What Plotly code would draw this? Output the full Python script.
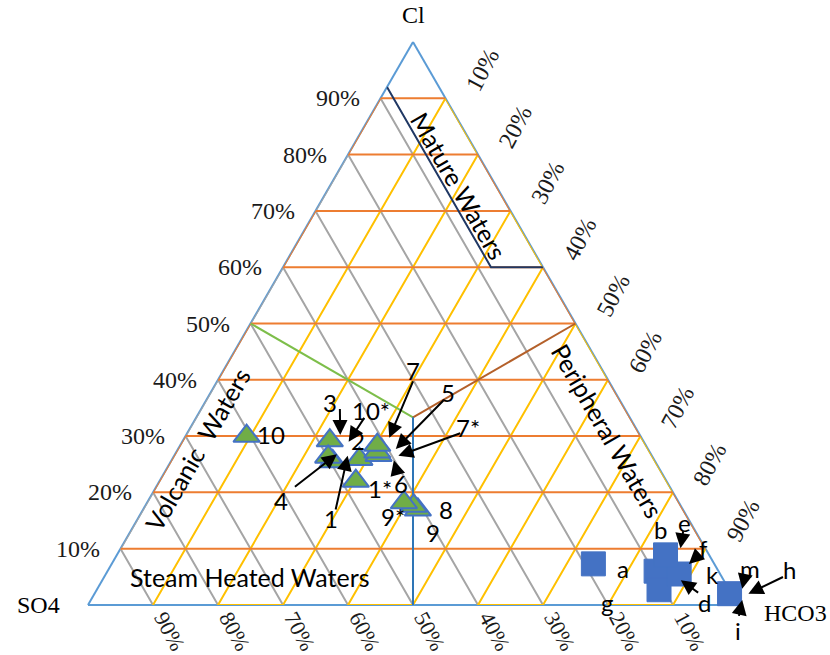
import math
import plotly.graph_objects as go

# Sample compositions (percent of Cl + SO4 + HCO3)
hot_cl = [16.9, 17.6, 18.2, 30.0, 29.2, 25.5, 26.3, 25.9, 22.0, 26.6, 27.2, 28.4]
hot_so4 = [40.8, 41.1, 42.3, 60.6, 48.2, 49.6, 49.9, 45.3, 47.8, 42.0, 41.9, 41.3]
hot_hco3 = [42.3, 41.3, 39.5, 9.4, 22.6, 24.9, 23.8, 28.8, 30.2, 31.4, 30.9, 30.3]

cold_cl = [7.3, 6.0, 2.7, 5.5, 8.9, 2.0]
cold_so4 = [18.6, 9.6, 10.8, 6.3, 6.7, 0.3]
cold_hco3 = [74.1, 84.4, 86.5, 88.2, 84.4, 97.7]

# Water-type field boundaries
mature_cl = [92, 60, 60]
mature_so4 = [8, 8, 0]
mature_hco3 = [0, 32, 40]
third = 100 / 3
volcanic_cl = [50, third]
volcanic_so4 = [50, third]
volcanic_hco3 = [0, third]
peripheral_cl = [third, 50]
peripheral_so4 = [third, 0]
peripheral_hco3 = [third, 50]
steam_cl = [third, 0]
steam_so4 = [third, 50]
steam_hco3 = [third, 50]

tick_vals = [10, 20, 30, 40, 50, 60, 70, 80, 90]
tick_text = [f"{v}%" for v in tick_vals]

# Callouts: text, label (Cl %, HCO3 %), arrow tail, arrow head
callouts = [
    ("3", (35.9, 19.3), (35.1, 21.2), (30.2, 23.7)),
    ("10*", (34.6, 26.2), (33.5, 25.9), (29.0, 25.6)),
    ("2", (29.2, 27.0), None, None),
    ("4", (18.5, 20.4), (20.8, 21.2), (26.8, 24.9)),
    ("1", (15.4, 29.7), (16.7, 29.7), (26.5, 26.7)),
    ("1*", (20.7, 34.5), None, None),
    ("6", (21.6, 37.4), (23.4, 35.9), (25.7, 34.2)),
    ("7", (41.7, 29.1), (40.0, 30.1), (29.7, 31.5)),
    ("5", (37.7, 36.5), (36.6, 36.6), (27.7, 33.5)),
    ("7*", (31.5, 42.7), (30.6, 42.2), (26.5, 34.5)),
    ("9*", (15.8, 39.0), None, None),
    ("8", (17.0, 46.5), None, None),
    ("9", (12.9, 46.6), None, None),
    ("10", (30.3, 13.0), None, None),
    ("a", (6.5, 79.1), None, None),
    ("b", (13.4, 81.3), None, None),
    ("e", (14.7, 84.4), (13.4, 84.9), (10.1, 86.1)),
    ("f", (10.1, 89.6), (9.1, 89.6), (7.3, 88.8)),
    ("k", (5.4, 93.3), None, None),
    ("d", (0.5, 94.6), (2.0, 93.1), (4.4, 89.0)),
    ("g", (0.5, 79.6), None, None),
    ("m", (6.5, 98.6), (5.4, 98.4), (2.9, 99.2)),
    ("h", (6.3, 104.8), (5.1, 104.6), (2.0, 100.6)),
    ("i", (-4.5, 102.2), (-2.2, 101.2), (0.9, 100.2)),
]

# Field names: text, centre (Cl %, HCO3 %), rotation
fields = [
    ("Mature Waters", (74.5, 19.9), 60),
    ("Peripheral Waters", (31.0, 64.5), 60),
    ("Volcanic  Waters", (27.7, 3.0), -60),
    ("Steam Heated Waters", (4.9, 22.5), 0),
]

S3 = math.sqrt(3) / 2
SANS = "Lato, Carlito, sans-serif"
SERIF = "Liberation Serif, Times New Roman, serif"
LABEL_FONT = dict(family=SANS, size=24, color="black")
TICK_FONT = dict(family=SERIF, size=24, color="#1a1a1a")
BOTTOM_TICK_FONT = dict(family=SERIF, size=22, color="#1a1a1a")
VERTEX_FONT = dict(family=SERIF, size=24, color="black")

# page and triangle placement (pixels)
FIG_W, FIG_H = 830, 655
PAD_L, PAD_R, PAD_T, PAD_B = 88, 92, 42, 50
SIDE = FIG_W - PAD_L - PAD_R  # triangle side length


def xy(cl, hco3):
    """Position in the unit-triangle frame of the overlay axes."""
    a = cl / 100.0
    c = hco3 / 100.0
    return c + a / 2.0, a * S3


def zigzag(ends_a, ends_b):
    """Grid drawn as one continuous path: each grid line is walked end to
    end, and consecutive lines are joined along the triangle's edges."""
    pts = []
    for i, v in enumerate(tick_vals):
        p, q = ends_a(v), ends_b(v)
        pts.extend([p, q] if i % 2 == 0 else [q, p])
    return [p[0] for p in pts], [p[1] for p in pts], [p[2] for p in pts]


fig = go.Figure()

# invisible anchor for the overlay cartesian frame
fig.add_trace(go.Scatter(x=[0, 1], y=[0, S3], mode="markers",
                         marker=dict(opacity=0), hoverinfo="skip",
                         showlegend=False))


def path(a, b, c, color):
    fig.add_trace(go.Scatterternary(a=a, b=b, c=c, mode="lines",
                                    line=dict(color=color, width=2),
                                    cliponaxis=False, hoverinfo="skip",
                                    showlegend=False))


# grid: constant SO4 (grey), constant HCO3 (gold), constant Cl (orange)
path(*zigzag(lambda s: (100 - s, s, 0), lambda s: (0, s, 100 - s)), "#A5A5A5")
path(*zigzag(lambda h: (0, 100 - h, h), lambda h: (100 - h, 0, h)), "#FFC000")
path(*zigzag(lambda a: (a, 100 - a, 0), lambda a: (a, 0, 100 - a)), "#ED7D31")

# field boundaries
path(mature_cl, mature_so4, mature_hco3, "#203864")
path(volcanic_cl, volcanic_so4, volcanic_hco3, "#7DBE4A")
path(peripheral_cl, peripheral_so4, peripheral_hco3, "#B4602A")
path(steam_cl, steam_so4, steam_hco3, "#2E75B6")

fig.add_trace(go.Scatterternary(
    a=hot_cl, b=hot_so4, c=hot_hco3, mode="markers", cliponaxis=False,
    marker=dict(symbol="triangle-up", size=23, color="#70AD47",
                line=dict(color="#4472C4", width=2)),
    showlegend=False))

fig.add_trace(go.Scatterternary(
    a=cold_cl, b=cold_so4, c=cold_hco3, mode="markers", cliponaxis=False,
    marker=dict(symbol="square", size=24, color="#4472C4",
                line=dict(color="#4472C4", width=1)),
    showlegend=False))

annotations = []
for text, lab, tail, head in callouts:
    lx, ly = xy(*lab)
    annotations.append(dict(x=lx, y=ly, xref="x", yref="y", text=text,
                            showarrow=False, font=LABEL_FONT))
    if head is not None:
        hx, hy = xy(*head)
        tx, ty = xy(*tail)
        annotations.append(dict(x=hx, y=hy, ax=tx, ay=ty, xref="x", yref="y",
                                axref="x", ayref="y", text="", showarrow=True,
                                arrowhead=2, arrowsize=1.5, arrowwidth=2,
                                arrowcolor="black", standoff=0,
                                startstandoff=0))

for text, pos, ang in fields:
    fx, fy = xy(*pos)
    annotations.append(dict(x=fx, y=fy, xref="x", yref="y", text=text,
                            showarrow=False, textangle=ang,
                            font=dict(family=SANS, size=25, color="black")))

# tick labels along the three sides
for v, t in zip(tick_vals, tick_text):
    # Cl: left side, horizontal
    px, py = xy(v, 0)
    annotations.append(dict(x=px, y=py, xref="x", yref="y", text=t,
                            showarrow=False, xanchor="right", xshift=-19,
                            font=TICK_FONT))
    # SO4: bottom side, slanted along the SO4 grid lines
    px, py = xy(0, 100 - v)
    annotations.append(dict(x=px, y=py, xref="x", yref="y", text=t,
                            showarrow=False, textangle=62, xshift=17,
                            yshift=-26, font=BOTTOM_TICK_FONT))
    # HCO3: right side, slanted along the HCO3 grid lines
    px, py = xy(100 - v, v)
    annotations.append(dict(x=px, y=py, xref="x", yref="y", text=t,
                            showarrow=False, textangle=-62, xshift=37,
                            yshift=28, font=TICK_FONT))

# vertex names
vx, vy = xy(100, 0)
annotations.append(dict(x=vx, y=vy, xref="x", yref="y", text="Cl",
                        showarrow=False, yshift=27, font=VERTEX_FONT))
vx, vy = xy(0, 0)
annotations.append(dict(x=vx, y=vy, xref="x", yref="y", text="SO4",
                        showarrow=False, xanchor="right", xshift=-26,
                        yshift=0, font=VERTEX_FONT))
vx, vy = xy(0, 100)
annotations.append(dict(x=vx, y=vy, xref="x", yref="y", text="HCO3",
                        showarrow=False, xanchor="left", xshift=24,
                        yshift=-8, font=VERTEX_FONT))


def tern_axis():
    return dict(title=dict(text=""), showticklabels=False, showgrid=False,
                linecolor="#5B9BD5", linewidth=2, ticks="",
                layer="below traces")


fig.update_layout(
    width=FIG_W, height=FIG_H,
    margin=dict(l=0, r=0, t=0, b=0, pad=0),
    paper_bgcolor="white", plot_bgcolor="white",
    showlegend=False,
    # overlay frame spans the whole page, one unit = one triangle side
    xaxis=dict(range=[-PAD_L / SIDE, (FIG_W - PAD_L) / SIDE],
               visible=False, fixedrange=True),
    yaxis=dict(range=[-PAD_B / SIDE, (FIG_H - PAD_B) / SIDE],
               visible=False, fixedrange=True),
    ternary=dict(
        sum=100, bgcolor="rgba(0,0,0,0)",
        domain=dict(x=[PAD_L / FIG_W, (FIG_W - PAD_R) / FIG_W],
                    y=[PAD_B / FIG_H, (FIG_H - PAD_T) / FIG_H]),
        aaxis=tern_axis(),
        baxis=tern_axis(),
        caxis=tern_axis(),
    ),
    annotations=annotations,
)

fig.write_html("out.html")
